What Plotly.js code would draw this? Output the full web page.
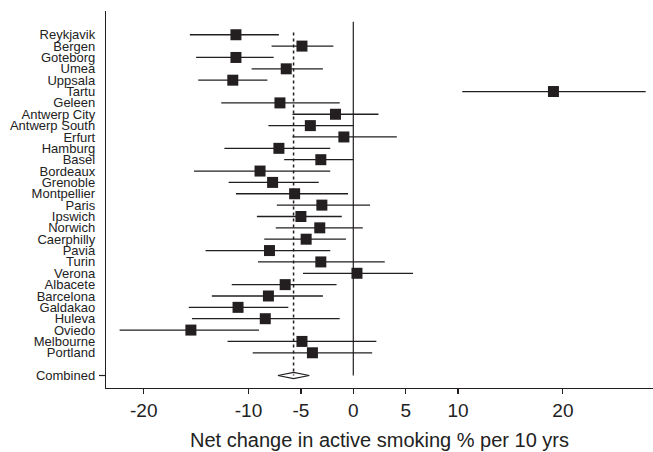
<!DOCTYPE html>
<html>
<head>
<meta charset="utf-8">
<script src="https://cdn.plot.ly/plotly-3.0.1.min.js"></script>
<style>html,body{margin:0;padding:0;background:#fff;}#chart{width:653px;height:452px;}</style>
</head>
<body>
<div id="chart"></div>
<script>
// Study centres (top to bottom)
const centres = ["Reykjavik","Bergen","Goteborg","Umea","Uppsala","Tartu","Geleen","Antwerp City","Antwerp South","Erfurt","Hamburg","Basel","Bordeaux","Grenoble","Montpellier","Paris","Ipswich","Norwich","Caerphilly","Pavia","Turin","Verona","Albacete","Barcelona","Galdakao","Huleva","Oviedo","Melbourne","Portland"];
// Net change in active smoking % per 10 yrs: estimate, lower CI, upper CI
const estimate = [-11.2,-4.9,-11.2,-6.4,-11.5,19.1,-7.0,-1.7,-4.1,-0.9,-7.1,-3.1,-8.9,-7.7,-5.6,-3.0,-5.0,-3.2,-4.5,-8.0,-3.1,0.35,-6.5,-8.1,-11.0,-8.4,-15.5,-4.9,-3.9];
const lower    = [-15.6,-7.8,-15.0,-9.7,-14.8,10.4,-12.6,-5.8,-8.1,-5.8,-12.3,-6.6,-15.2,-11.9,-11.2,-7.3,-9.2,-7.4,-8.5,-14.1,-9.1,-4.8,-11.6,-13.5,-15.7,-15.4,-22.3,-12.0,-9.6];
const upper    = [-7.1,-1.9,-7.6,-2.9,-8.2,27.9,-1.3,2.4,0.0,4.15,-2.2,0.0,-2.2,-3.3,-0.5,1.6,-1.1,0.9,-0.7,-2.2,3.0,5.7,-1.6,-2.9,-6.2,-1.3,-9.0,2.2,1.8];
// Combined estimate
const combinedLabel = "Combined";
const combinedEst = -5.7, combinedLo = -7.2, combinedHi = -4.2;
// X axis ticks
const xTicks = [-20,-10,-5,0,5,10,20];
const xTitle = "Net change in active smoking % per 10 yrs";

const ink = "#231f20";
const rows = centres.map((_, i) => i);
const combinedRow = centres.length + 1;

const studies = {
  type: "scatter", mode: "markers",
  x: estimate, y: rows,
  marker: {symbol: "square", size: 11, color: ink},
  error_x: {type: "data", symmetric: false,
    array: upper.map((u, i) => u - estimate[i]),
    arrayminus: lower.map((l, i) => estimate[i] - l),
    width: 0, thickness: 1.3, color: ink},
  hoverinfo: "x+text", text: centres, showlegend: false
};
const dh = 0.27;
const diamond = {
  type: "scatter", mode: "lines",
  x: [combinedLo, combinedEst, combinedHi, combinedEst, combinedLo],
  y: [combinedRow, combinedRow - dh, combinedRow, combinedRow + dh, combinedRow],
  fill: "toself", fillcolor: "#ffffff",
  line: {color: ink, width: 1.2}, showlegend: false, hoverinfo: "skip"
};

const layout = {
  width: 653, height: 452,
  margin: {l: 106, r: 0, t: 11, b: 64},
  paper_bgcolor: "#fff", plot_bgcolor: "#fff",
  font: {family: "Liberation Sans, Arial, sans-serif", color: "#222"},
  xaxis: {
    range: [-23.6, 28.6], tickvals: xTicks, ticktext: xTicks.map(String),
    showgrid: false, zeroline: false, showline: true, linecolor: ink, linewidth: 1.2,
    ticks: "outside", ticklen: 5, tickwidth: 1.2, tickcolor: ink,
    tickfont: {size: 19, color: "#222"},
    title: {text: xTitle, font: {size: 20, color: "#222"}, standoff: 13}
  },
  yaxis: {
    range: [31.1, -2.09],
    tickvals: rows.concat([combinedRow]), ticktext: centres.concat([combinedLabel]),
    showgrid: false, zeroline: false, showline: true, linecolor: ink, linewidth: 1.2,
    ticks: "", ticklabelstandoff: 7,
    tickfont: {size: 13, color: "#222"}
  },
  shapes: [
    {type: "line", xref: "x", yref: "y", x0: 0, x1: 0, y0: -1.15, y1: combinedRow,
     line: {color: ink, width: 1.2}},
    {type: "line", xref: "x", yref: "y", x0: combinedEst, x1: combinedEst, y0: -0.2, y1: combinedRow,
     line: {color: ink, width: 1.5, dash: "dot"}},
    {type: "line", xref: "paper", yref: "y", xsizemode: "pixel", xanchor: 0, x0: -7, x1: 0,
     y0: combinedRow, y1: combinedRow, line: {color: ink, width: 1.2}}
  ]
};

Plotly.newPlot("chart", [studies, diamond], layout, {displayModeBar: false, staticPlot: true});
</script>
</body>
</html>
